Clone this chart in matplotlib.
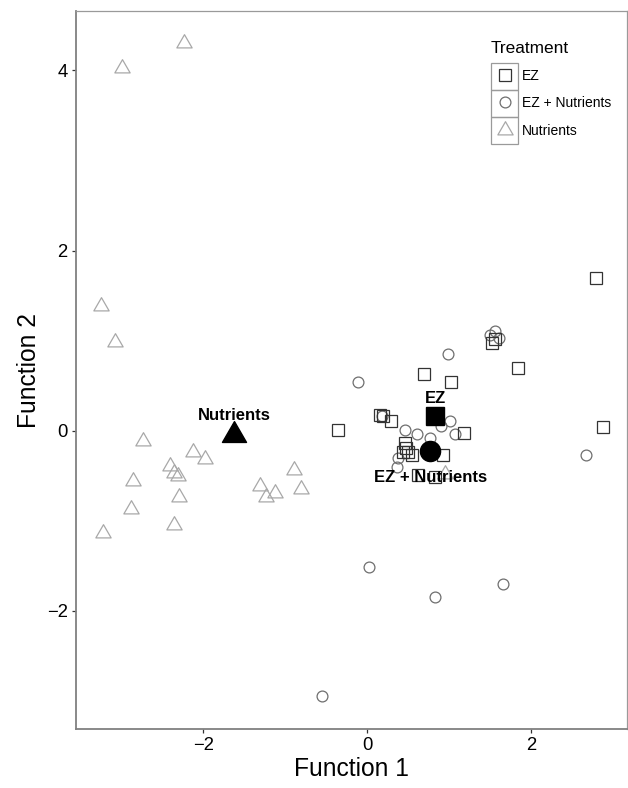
import matplotlib
matplotlib.use("Agg")
import matplotlib.pyplot as plt
from matplotlib.lines import Line2D
from matplotlib.patches import Rectangle
from matplotlib.path import Path
from matplotlib.transforms import IdentityTransform

plt.rcParams['font.family'] = ['Liberation Sans', 'DejaVu Sans']

# discriminant scores
ez_x = [2.79, 2.88, 1.84, 1.52, 1.56, 1.02, 0.70, -0.35, 1.18, 0.16,
        0.20, 0.29, 0.46, 0.48, 0.50, 0.55, 0.44, 0.93, 0.62, 0.83]
ez_y = [1.70, 0.04, 0.70, 0.97, 1.02, 0.54, 0.63, 0.01, -0.02, 0.18,
        0.16, 0.11, -0.13, -0.19, -0.24, -0.27, -0.24, -0.27, -0.49, -0.51]

ezn_x = [-0.11, 0.99, 2.67, 0.02, 0.83, 1.66, -0.55, 1.56, 1.50, 1.61,
         1.01, 0.90, 1.07, 0.46, 0.61, 0.77, 0.38, 0.18, 0.36]
ezn_y = [0.54, 0.85, -0.27, -1.51, -1.84, -1.70, -2.94, 1.11, 1.06, 1.03,
         0.11, 0.05, -0.03, 0.01, -0.04, -0.08, -0.30, 0.16, -0.40]

nut_x = [-2.99, -2.23, -3.24, -3.07, -2.73, -2.86, -2.88, -3.22, -2.40, -2.36,
         -2.31, -2.29, -2.35, -2.12, -1.98, -1.30, -1.23, -1.12, -0.89, -0.80, 0.95]
nut_y = [4.03, 4.31, 1.39, 0.99, -0.11, -0.56, -0.87, -1.13, -0.39, -0.47,
         -0.50, -0.74, -1.04, -0.23, -0.31, -0.61, -0.73, -0.69, -0.43, -0.65, -0.48]

# group centroids
cent_names = ['EZ', 'EZ + Nutrients', 'Nutrients']
cent_x = [0.83, 0.77, -1.62]
cent_y = [0.16, -0.22, -0.05]

# equilateral triangle like ggplot's shape 2
tri = Path([(-1, -0.577), (1, -0.577), (0, 1.155), (-1, -0.577)], closed=True)

fig = plt.figure(figsize=(6.28, 7.88), dpi=100)
ax = fig.add_axes([76 / 628, 1 - 729 / 788, 551 / 628, 718 / 788])

ax.plot(nut_x, nut_y, ls='none', marker=tri, ms=12.7, mfc='none', mec='#a8a8a8', mew=0.9)
ax.plot(ezn_x, ezn_y, ls='none', marker='o', ms=7.8, mfc='none', mec='#6e6e6e', mew=0.9)
ax.plot(ez_x, ez_y, ls='none', marker='s', ms=8.9, mfc='none', mec='#333333', mew=0.9)

# centroids
ax.plot(cent_x[0], cent_y[0], ls='none', marker='s', ms=13, color='black')
ax.plot(cent_x[1], cent_y[1], ls='none', marker='o', ms=14.5, color='black')
ax.plot(cent_x[2], cent_y[2], ls='none', marker=tri, ms=20, color='black')

offsets = [(0, 13), (0, -19), (0, 14)]
for name, x, y, off in zip(cent_names, cent_x, cent_y, offsets):
    ax.annotate(name, (x, y), xytext=off, textcoords='offset points',
                ha='center', va='center', fontsize=12, fontweight='bold')

ax.set_xlim(-3.55, 3.17)
ax.set_ylim(-3.31, 4.66)
ax.set_xticks([-2, 0, 2])
ax.set_yticks([-2, 0, 2, 4])
ax.tick_params(direction='out', length=3, width=0.9, color='#333333',
               labelsize=13.3, pad=3)
ax.set_xlabel('Function 1', fontsize=17.7, labelpad=2)
ax.set_ylabel('Function 2', fontsize=17.7, labelpad=4)

for side in ['top', 'right']:
    ax.spines[side].set_color('#9a9a9a')
    ax.spines[side].set_linewidth(0.9)
for side in ['left', 'bottom']:
    ax.spines[side].set_color('#808080')
    ax.spines[side].set_linewidth(1.3)

handles = [
    Line2D([], [], ls='none', marker='s', ms=8.9, mfc='none', mec='#333333', mew=0.9),
    Line2D([], [], ls='none', marker='o', ms=7.8, mfc='none', mec='#6e6e6e', mew=0.9),
    Line2D([], [], ls='none', marker=tri, ms=12.7, mfc='none', mec='#a8a8a8', mew=0.9),
]
leg = ax.legend(handles, cent_names, title='Treatment', alignment='left',
                loc='upper left', bbox_to_anchor=(484 / 628, 1 - 34 / 788),
                bbox_transform=fig.transFigure, frameon=False,
                fontsize=10, title_fontsize=12.4, borderpad=0,
                handlelength=2.0, handletextpad=0.2, labelspacing=0.95)

# grey boxes round the legend keys
fig.canvas.draw()
r = fig.canvas.get_renderer()
cys = [t.get_window_extent(r).y0 + t.get_window_extent(r).height / 2 for t in leg.get_texts()]
step = abs(cys[0] - cys[1])
for h, cy in zip(leg.legend_handles, cys):
    bb = h.get_window_extent(r)
    cx = (bb.x0 + bb.x1) / 2
    fig.patches.append(Rectangle((cx - step / 2, cy - step / 2), step, step,
                                 fill=False, ec='#9a9a9a', lw=0.9,
                                 transform=IdentityTransform(), figure=fig))

fig.savefig('out.png', dpi=100)
